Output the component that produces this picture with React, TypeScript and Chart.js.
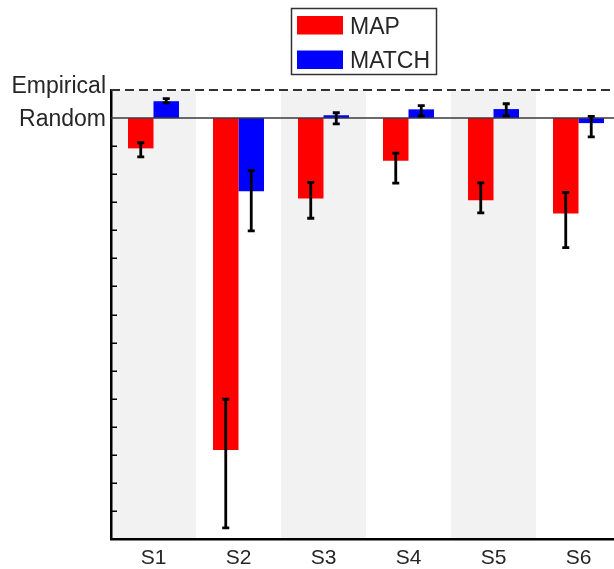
import React, { useEffect, useRef } from "react";
import { Chart, registerables } from "chart.js";

Chart.register(...registerables);

const categories = ["S1", "S2", "S3", "S4", "S5", "S6"];
const seriesNames = ["MAP", "MATCH"];
const mapValues = [-1.08, -11.83, -2.87, -1.52, -2.93, -3.4];
const mapErrHigh = [-0.88, -10.02, -2.29, -1.25, -2.31, -2.65];
const mapErrLow = [-1.38, -14.6, -3.57, -2.32, -3.38, -4.62];
const matchValues = [0.6, -2.61, 0.1, 0.31, 0.32, -0.18];
const matchErrHigh = [0.69, -1.87, 0.19, 0.44, 0.51, 0.06];
const matchErrLow = [0.54, -4.02, -0.21, 0.08, 0.08, -0.67];
const yMin = -15;
const yMax = 1;
const yLabelValues = [1, 0];
const yLabelTexts = ["Empirical", "Random"];
const minorTickValues = [-14, -13, -12, -11, -10, -9, -8, -7, -6, -5, -4, -3, -2, -1];

const FONT = "'Liberation Sans', Arial, Helvetica, sans-serif";
const TEXT = "#262626";

const overlayPlugin = {
  id: "overlay",
  beforeDraw(chart: any) {
    const { ctx, chartArea, scales } = chart;
    const x = scales.x;
    const w = (chartArea.right - chartArea.left) / categories.length;
    ctx.save();
    ctx.fillStyle = "#f2f2f2";
    categories.forEach((_, i) => {
      if (i % 2 === 0) {
        const cx = x.getPixelForValue(i);
        ctx.fillRect(cx - w / 2, chartArea.top, w, chartArea.bottom - chartArea.top);
      }
    });
    ctx.restore();
  },
  afterDatasetsDraw(chart: any) {
    const { ctx, chartArea, scales } = chart;
    const y = scales.y;
    ctx.save();
    // zero (Random) line
    const y0 = y.getPixelForValue(0);
    ctx.strokeStyle = "#3a3a3a";
    ctx.lineWidth = 1.5;
    ctx.beginPath();
    ctx.moveTo(chartArea.left, y0);
    ctx.lineTo(chartArea.right, y0);
    ctx.stroke();
    // Empirical dashed line
    const y1 = y.getPixelForValue(1);
    ctx.strokeStyle = "#333";
    ctx.lineWidth = 2;
    ctx.setLineDash([9, 5]);
    ctx.beginPath();
    ctx.moveTo(chartArea.left, y1);
    ctx.lineTo(chartArea.right, y1);
    ctx.stroke();
    ctx.setLineDash([]);
    // inward tick marks
    ctx.strokeStyle = "#000";
    ctx.lineWidth = 1.5;
    minorTickValues.forEach((v) => {
      const py = Math.round(y.getPixelForValue(v)) + 0.25;
      ctx.beginPath();
      ctx.moveTo(chartArea.left, py);
      ctx.lineTo(chartArea.left + 6, py);
      ctx.stroke();
    });
    // error bars
    const errs = [
      [mapErrHigh, mapErrLow],
      [matchErrHigh, matchErrLow],
    ];
    ctx.strokeStyle = "#000";
    ctx.lineWidth = 2.8;
    errs.forEach(([hi, lo], di) => {
      const meta = chart.getDatasetMeta(di);
      meta.data.forEach((bar: any, i: number) => {
        const bx = bar.x;
        const yh = y.getPixelForValue(hi[i]);
        const yl = y.getPixelForValue(lo[i]);
        ctx.beginPath();
        ctx.moveTo(bx, yh);
        ctx.lineTo(bx, yl);
        ctx.moveTo(bx - 3.5, yh);
        ctx.lineTo(bx + 3.5, yh);
        ctx.moveTo(bx - 3.5, yl);
        ctx.lineTo(bx + 3.5, yl);
        ctx.stroke();
      });
    });
    // y labels
    ctx.fillStyle = TEXT;
    ctx.font = `23px ${FONT}`;
    ctx.textAlign = "right";
    ctx.textBaseline = "alphabetic";
    yLabelValues.forEach((v, i) => {
      const py = y.getPixelForValue(v);
      const off = i === 0 ? 3 : 8;
      ctx.fillText(yLabelTexts[i], chartArea.left - 5, py + off);
    });
    // legend
    const lx = 291, ly = 8, lw = 145, lh = 66;
    ctx.fillStyle = "#fff";
    ctx.fillRect(lx, ly, lw, lh);
    ctx.strokeStyle = "#333";
    ctx.lineWidth = 1.5;
    ctx.strokeRect(lx + 0.5, ly + 0.5, lw, lh);
    ctx.textAlign = "left";
    ctx.font = `23px ${FONT}`;
    chart.data.datasets.forEach((ds: any, i: number) => {
      const sy = ly + 8 + i * 34.5;
      ctx.fillStyle = ds.backgroundColor;
      ctx.fillRect(lx + 6, sy, 46, 18.5);
      ctx.fillStyle = TEXT;
      ctx.fillText(ds.label, lx + 59, sy + 17.5);
    });
    ctx.restore();
  },
};

export default function App() {
  const ref = useRef<HTMLCanvasElement | null>(null);
  useEffect(() => {
    if (!ref.current) return;
    const chart = new Chart(ref.current, {
      type: "bar",
      data: {
        labels: categories,
        datasets: [
          { label: seriesNames[0], data: mapValues, backgroundColor: "#ff0000", borderWidth: 0 },
          { label: seriesNames[1], data: matchValues, backgroundColor: "#0000ff", borderWidth: 0 },
        ],
      },
      options: {
        responsive: false,
        animation: false,
        events: [],
        layout: { padding: { top: 90, right: 3, bottom: 0, left: 0 } },
        datasets: { bar: { categoryPercentage: 0.6, barPercentage: 1.0 } },
        plugins: { legend: { display: false }, tooltip: { enabled: false } },
        scales: {
          x: {
            grid: { display: false, drawTicks: false },
            border: { display: true, color: "#000", width: 2.5 },
            ticks: { color: TEXT, font: { size: 21, family: FONT }, padding: 7 },
            afterFit: (s: any) => {
              s.height = 30;
            },
          },
          y: {
            min: yMin,
            max: yMax,
            grid: { display: false, drawTicks: false },
            border: { display: true, color: "#000", width: 2.5 },
            ticks: { display: false, stepSize: 1 },
            afterFit: (s: any) => {
              s.width = 111;
            },
          },
        },
      },
      plugins: [overlayPlugin],
    });
    return () => chart.destroy();
  }, []);
  return (
    <div style={{ position: "fixed", left: 0, top: 0, width: 614, height: 569, overflow: "hidden", background: "#fff" }}>
      <canvas ref={ref} width={624} height={569} style={{ display: "block" }} />
    </div>
  );
}
